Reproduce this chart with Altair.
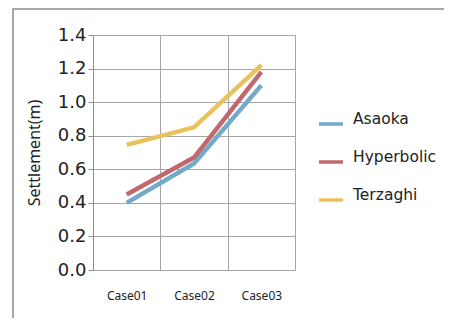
import altair as alt
import pandas as pd

cases = ["Case01", "Case02", "Case03"]
asaoka = [0.40, 0.635, 1.10]
hyperbolic = [0.45, 0.67, 1.18]
terzaghi = [0.745, 0.85, 1.22]
series = ["Asaoka", "Hyperbolic", "Terzaghi"]
colors = ["#72aac9", "#c1686c", "#e8c35c"]

rows = []
for name, vals in zip(series, [asaoka, hyperbolic, terzaghi]):
    for c, v in zip(cases, vals):
        rows.append({"case": c, "series": name, "value": v})
df = pd.DataFrame(rows)

W, H = 202, 235

frame = alt.Chart(pd.DataFrame({"a": [0]})).mark_rect(
    fill="transparent", stroke="#8c8c8c", strokeWidth=1.5
).encode(
    x=alt.value(-80), x2=alt.value(W + 400),
    y=alt.value(-26), y2=alt.value(H + 200)
)

lines = alt.Chart(df).mark_line(strokeWidth=4.5, strokeCap="butt").encode(
    x=alt.X("case:N", sort=cases, scale=alt.Scale(paddingInner=0, paddingOuter=0),
            axis=alt.Axis(title=None, labelAngle=0, ticks=False, tickBand="extent",
                          grid=True, gridColor="#a6a6a6", gridWidth=1,
                          domain=False, labelPadding=20, labelFontSize=12,
                          labelColor="#222222", labelFont="Noto Sans")),
    y=alt.Y("value:Q", scale=alt.Scale(domain=[0, 1.4], nice=False),
            axis=alt.Axis(title="Settlement(m)", values=[0, 0.2, 0.4, 0.6, 0.8, 1.0, 1.2, 1.4],
                          format=".1f", grid=True, gridColor="#a6a6a6", gridWidth=1,
                          domain=True, domainColor="#8c8c8c", tickColor="#8c8c8c",
                          tickSize=5, labelFontSize=18, labelColor="#222222",
                          labelFont="DejaVu Sans", labelPadding=2,
                          titleFont="Noto Sans", titleFontSize=16, titleFontWeight="normal",
                          titleColor="#222222", titleX=-51, titleY=H / 2, titleAngle=-90)),
    color=alt.Color("series:N", sort=series,
                    scale=alt.Scale(domain=series, range=colors),
                    legend=alt.Legend(title=None, orient="none", legendX=224, legendY=75,
                                      symbolType="stroke", symbolStrokeWidth=3.5,
                                      symbolSize=576, labelFontSize=15.5,
                                      labelFont="DejaVu Sans", labelColor="#222222",
                                      labelBaseline="alphabetic",
                                      rowPadding=17, labelOffset=8)),
)

chart = alt.layer(frame, lines).properties(
    width=W, height=H,
    autosize=alt.AutoSizeParams(type="none"),
    padding={"left": 85, "top": 27, "right": 149, "bottom": 48},
).configure_view(stroke="#a6a6a6", strokeWidth=1).configure(background="white")

chart.save("out.html", embed_options={"renderer": "svg", "actions": False})
